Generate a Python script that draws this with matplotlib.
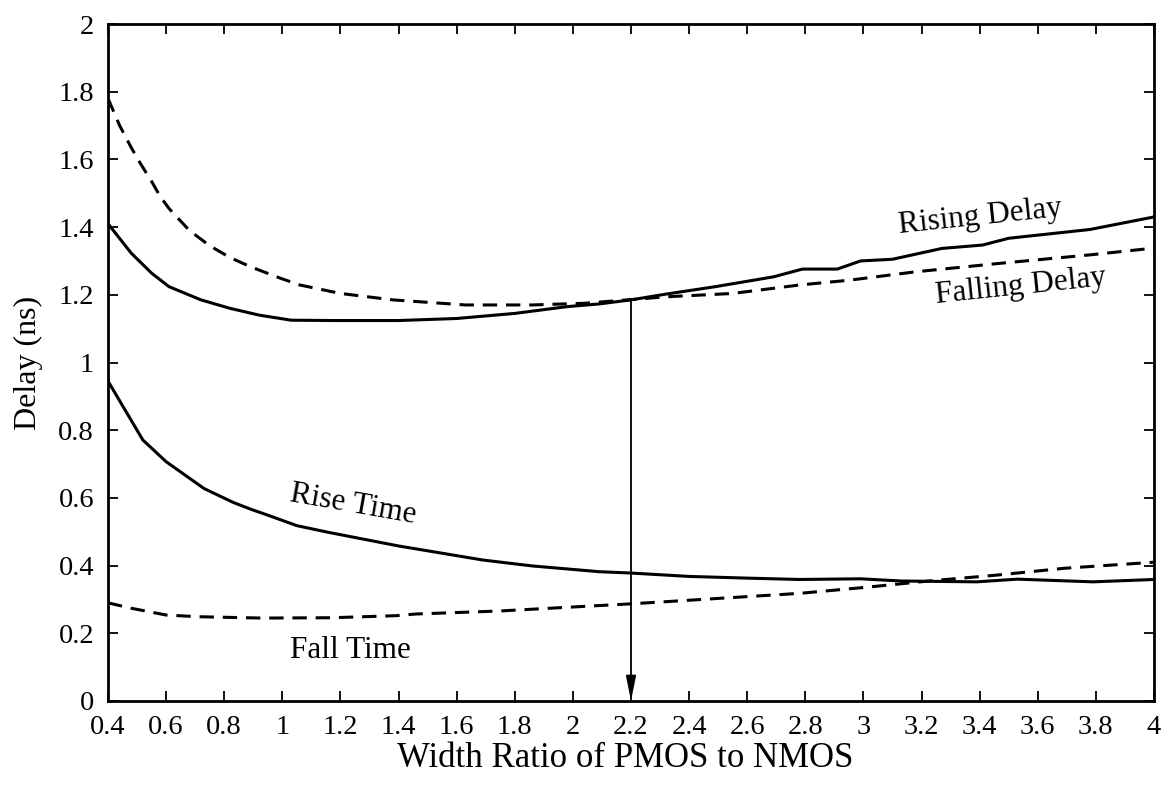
import matplotlib
matplotlib.use("Agg")
import matplotlib.pyplot as plt

# Data
x_rd = [0.40, 0.48, 0.55, 0.61, 0.72, 0.82, 0.92, 1.03, 1.17, 1.40, 1.60, 1.80, 1.98, 2.09, 2.20, 2.32, 2.49, 2.69, 2.79, 2.91, 2.99, 3.10, 3.27, 3.41, 3.50, 3.78, 4.00]
rising_delay = [1.41, 1.323, 1.264, 1.224, 1.185, 1.16, 1.14, 1.125, 1.124, 1.124, 1.13, 1.145, 1.165, 1.173, 1.185, 1.202, 1.224, 1.253, 1.276, 1.276, 1.30, 1.305, 1.337, 1.347, 1.367, 1.393, 1.43]

x_fd = [0.40, 0.44, 0.48, 0.51, 0.55, 0.58, 0.61, 0.68, 0.75, 0.82, 0.89, 0.99, 1.06, 1.20, 1.38, 1.63, 1.86, 2.04, 2.32, 2.55, 2.78, 2.95, 3.18, 3.47, 3.78, 4.00]
falling_delay = [1.78, 1.70, 1.635, 1.59, 1.535, 1.49, 1.455, 1.39, 1.345, 1.31, 1.283, 1.25, 1.229, 1.204, 1.185, 1.17, 1.17, 1.175, 1.194, 1.204, 1.229, 1.243, 1.268, 1.293, 1.318, 1.338]

x_rt = [0.40, 0.52, 0.60, 0.73, 0.83, 0.89, 0.95, 1.05, 1.16, 1.28, 1.40, 1.69, 1.86, 2.09, 2.20, 2.40, 2.60, 2.78, 2.99, 3.13, 3.39, 3.53, 3.79, 4.00]
rise_time = [0.945, 0.771, 0.707, 0.628, 0.587, 0.567, 0.549, 0.518, 0.498, 0.478, 0.458, 0.4165, 0.399, 0.382, 0.378, 0.368, 0.363, 0.359, 0.361, 0.3545, 0.352, 0.36, 0.352, 0.359]

x_ft = [0.40, 0.48, 0.60, 0.71, 0.93, 1.17, 1.39, 1.46, 1.75, 2.07, 2.20, 2.78, 3.01, 3.23, 3.46, 3.69, 4.00]
fall_time = [0.29, 0.274, 0.254, 0.249, 0.245, 0.246, 0.252, 0.257, 0.266, 0.281, 0.287, 0.318, 0.336, 0.355, 0.372, 0.392, 0.41]

optimum_ratio = 2.2
optimum_delay = 1.185

x_ticks = [0.4, 0.6, 0.8, 1, 1.2, 1.4, 1.6, 1.8, 2, 2.2, 2.4, 2.6, 2.8, 3, 3.2, 3.4, 3.6, 3.8, 4]
x_tick_labels = ["0.4", "0.6", "0.8", "1", "1.2", "1.4", "1.6", "1.8", "2", "2.2", "2.4", "2.6", "2.8", "3", "3.2", "3.4", "3.6", "3.8", "4"]
y_ticks = [0, 0.2, 0.4, 0.6, 0.8, 1, 1.2, 1.4, 1.6, 1.8, 2]
y_tick_labels = ["0", "0.2", "0.4", "0.6", "0.8", "1", "1.2", "1.4", "1.6", "1.8", "2"]

plt.rcParams['font.family'] = ['Liberation Serif', 'DejaVu Serif']

fig = plt.figure(figsize=(11.69, 7.85), dpi=100)
ax = fig.add_axes([108/1169, 84/785, (1154-108)/1169, (701-24)/785])

lw = 2.2
dash = (0, (4.7, 2.9))
ax.plot(x_rd, rising_delay, color='black', lw=lw, solid_joinstyle='round')
ax.plot(x_fd, falling_delay, color='black', lw=lw, linestyle=dash)
ax.plot(x_rt, rise_time, color='black', lw=lw, solid_joinstyle='round')
ax.plot(x_ft, fall_time, color='black', lw=lw, linestyle=dash)

ax.annotate("", xy=(optimum_ratio, 0), xytext=(optimum_ratio, optimum_delay),
            arrowprops=dict(arrowstyle='-|>,head_length=1.5,head_width=0.3',
                            color='black', lw=1.3, shrinkA=0, shrinkB=0))

lab_fs = 22.5
ax.text(3.40, 1.43, "Rising Delay", fontsize=lab_fs, rotation=6, ha='center', va='center')
ax.text(3.54, 1.223, "Falling Delay", fontsize=lab_fs, rotation=6, ha='center', va='center')
ax.text(1.243, 0.579, "Rise Time", fontsize=lab_fs, rotation=-10, ha='center', va='center')
ax.text(1.233, 0.148, "Fall Time", fontsize=lab_fs, rotation=0, ha='center', va='center')

ax.set_xlim(0.4, 4)
ax.set_ylim(0, 2)
ax.set_xticks(x_ticks)
ax.set_xticklabels(x_tick_labels)
ax.set_yticks(y_ticks)
ax.set_yticklabels(y_tick_labels)
ax.tick_params(direction='in', length=7.5, width=1.3, top=True, right=True,
               labelsize=20.5)
ax.tick_params(axis='x', pad=10)
ax.tick_params(axis='y', pad=10)
for s in ax.spines.values():
    s.set_linewidth(2)

ax.set_xlabel("Width Ratio of PMOS to NMOS", fontsize=25)
ax.xaxis.set_label_coords(0.494, -0.06)
ax.set_ylabel("Delay (ns)", fontsize=23)
ax.yaxis.set_label_coords(-0.062, 0.5)

fig.savefig("out.png", dpi=100)
